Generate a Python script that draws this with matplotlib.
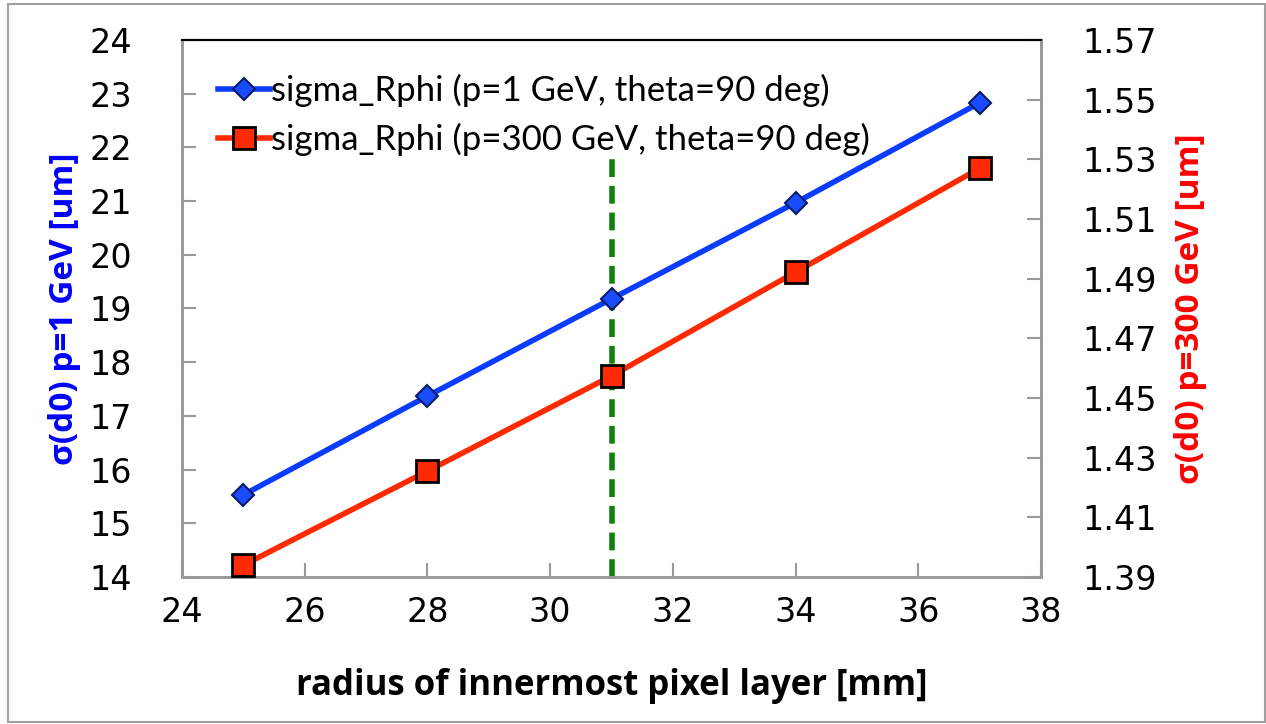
import matplotlib.pyplot as plt
from matplotlib.patches import Rectangle

# data
radius = [25, 28, 31, 34, 37]
sigma_1gev = [15.53, 17.37, 19.18, 20.97, 22.83]
sigma_300gev = [1.394, 1.4255, 1.4574, 1.4922, 1.527]
vline_x = 31
vline_top = 21.8

x_ticks = [24, 26, 28, 30, 32, 34, 36, 38]
left_ticks = [14, 15, 16, 17, 18, 19, 20, 21, 22, 23, 24]
right_ticks = [1.39, 1.41, 1.43, 1.45, 1.47, 1.49, 1.51, 1.53, 1.55, 1.57]

blue = "#0a3cff"
red = "#ff2a00"
spine_grey = "#999999"

fig = plt.figure(figsize=(12.66, 7.24), dpi=100)
fig.patches.append(Rectangle((0.006, 0.003), 0.993, 0.992, transform=fig.transFigure,
                             fill=False, edgecolor="#a0a0a0", linewidth=1.5))

ax = fig.add_axes([0.1438, 0.203, 0.6785, 0.7418])
ax2 = ax.twinx()

ax.plot([vline_x, vline_x], [14, vline_top], color="#108010", linewidth=4,
        linestyle=(0, (3.2, 1.6)), zorder=1)

l1, = ax.plot(radius, sigma_1gev, color=blue, linewidth=4, marker="D", markersize=11,
              markerfacecolor="#1a4cff", markeredgecolor="#0a1a66", markeredgewidth=1.5, zorder=3,
              label="sigma_Rphi (p=1 GeV, theta=90 deg)")
l2, = ax2.plot(radius, sigma_300gev, color=red, linewidth=4, marker="s", markersize=16,
               markerfacecolor=red, markeredgecolor="black", markeredgewidth=2, zorder=3,
               label="sigma_Rphi (p=300 GeV, theta=90 deg)")

ax.set_xlim(24, 38)
ax.set_ylim(14, 24)
ax2.set_ylim(1.39, 1.57)
ax.set_xticks(x_ticks)
ax.set_yticks(left_ticks)
ax2.set_yticks(right_ticks)
ax2.set_yticklabels([f"{v:.2f}" for v in right_ticks])

for a in (ax, ax2):
    for s in ("left", "right", "bottom"):
        a.spines[s].set_color(spine_grey)
        a.spines[s].set_linewidth(2)
    a.spines["top"].set_color("black")
    a.spines["top"].set_linewidth(1.5)
    a.tick_params(direction="in", length=10, width=1.5, color=spine_grey,
                  labelsize=24, pad=14)
ax.tick_params(axis="y", pad=36)
ax2.tick_params(axis="y", pad=30)
ax.tick_params(axis="x", pad=14)

ax.set_xlabel("radius of innermost pixel layer [mm]", fontsize=25, fontweight="bold",
              family="Open Sans", labelpad=28)
ax.set_ylabel("σ(d0) p=1 GeV [um]", fontsize=24, fontweight="bold", color="#0000ff",
              family="Open Sans", labelpad=6)
ax2.set_ylabel("σ(d0) p=300 GeV [um]", fontsize=24, fontweight="bold", color="#ff0000",
               family="Open Sans", labelpad=12)

ax.legend(handles=[l1, l2], loc="upper left", bbox_to_anchor=(0.005, 0.995), frameon=False,
          prop={"family": "Lato", "size": 25}, handlelength=1.5, handletextpad=0.05,
          labelspacing=0.45)

fig.savefig("out.png", dpi=100)
